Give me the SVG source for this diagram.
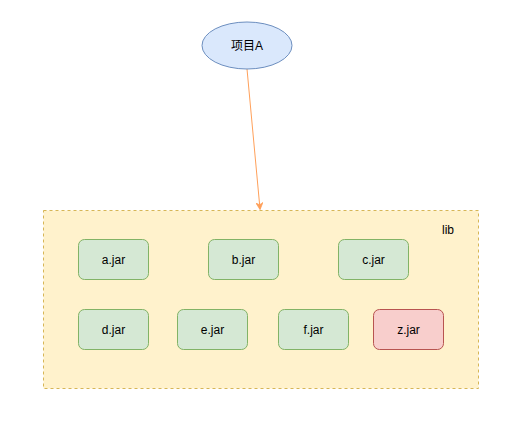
<svg xmlns="http://www.w3.org/2000/svg" width="523" height="422" viewBox="0 0 523 422">
<defs>
<style>
.jar{fill:#d5e8d4;stroke:#82b366;stroke-width:1}
.red{fill:#f8cecc;stroke:#b85450;stroke-width:1}
text{font-family:"Liberation Sans","Noto Sans CJK SC",sans-serif;font-size:12px;fill:#000;text-anchor:middle;dominant-baseline:central}
</style>
<marker id="arr" viewBox="0 0 10 10" refX="9" refY="5" markerWidth="7" markerHeight="7" orient="auto" markerUnits="userSpaceOnUse">
<path d="M0,0 L10,5 L0,10 L3,5 Z" fill="#ffa05a" stroke="#ffa05a"/>
</marker>
</defs>
<rect width="523" height="422" fill="#fff"/>
<g id="lib">
<rect x="43.5" y="210.5" width="435" height="178" fill="#fff2cc" stroke="#d6b656" stroke-dasharray="3 3"/>
<text x="448" y="230">lib</text>
</g>
<g id="connectors">
<line x1="247" y1="69" x2="260" y2="209" stroke="#ffa05a" stroke-width="1" marker-end="url(#arr)"/>
</g>
<g id="projectA">
<ellipse cx="247" cy="45.5" rx="45" ry="23.5" fill="#dae8fc" stroke="#6c8ebf"/>
<text x="247" y="45.5">项目A</text>
</g>
<g id="a"><rect class="jar" x="78.5" y="239.5" width="70" height="40" rx="6"/><text x="113.5" y="259.5">a.jar</text></g>
<g id="b"><rect class="jar" x="208.5" y="239.5" width="70" height="40" rx="6"/><text x="243.5" y="259.5">b.jar</text></g>
<g id="c"><rect class="jar" x="338.5" y="239.5" width="70" height="40" rx="6"/><text x="373.5" y="259.5">c.jar</text></g>
<g id="d"><rect class="jar" x="78.5" y="309.5" width="70" height="40" rx="6"/><text x="113.5" y="329.5">d.jar</text></g>
<g id="e"><rect class="jar" x="177.5" y="309.5" width="70" height="40" rx="6"/><text x="212.5" y="329.5">e.jar</text></g>
<g id="f"><rect class="jar" x="278.5" y="309.5" width="70" height="40" rx="6"/><text x="313.5" y="329.5">f.jar</text></g>
<g id="z"><rect class="red" x="373.5" y="309.5" width="70" height="40" rx="6"/><text x="408.5" y="329.5">z.jar</text></g>
</svg>
